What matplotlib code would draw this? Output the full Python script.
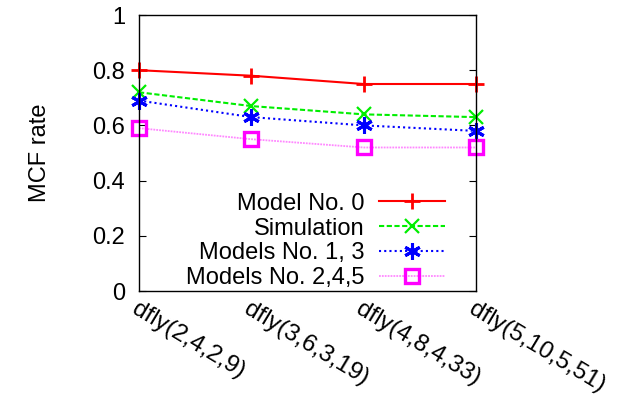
import matplotlib.pyplot as plt

plt.rcParams['font.family'] = ['Liberation Sans', 'DejaVu Sans']

configs = ['dfly(2,4,2,9)', 'dfly(3,6,3,19)', 'dfly(4,8,4,33)', 'dfly(5,10,5,51)']
model0 = [0.80, 0.78, 0.75, 0.75]
simulation = [0.72, 0.67, 0.64, 0.63]
models13 = [0.69, 0.63, 0.60, 0.58]
models245 = [0.59, 0.55, 0.52, 0.52]

x = list(range(len(configs)))

fig = plt.figure(figsize=(6.28, 4.03), dpi=100)
ax = fig.add_axes([139 / 628, 1 - 291 / 403, 337 / 628, 276 / 403])

ax.plot(x, model0, color='#ff0000', ls='-', lw=1.5, marker='+', ms=12, mew=2,
        label='Model No. 0', clip_on=False)
ax.plot(x, simulation, color='#00ee00', ls=(0, (2.5, 1.2)), lw=1.5, marker='x', ms=9.5, mew=1.6,
        label='Simulation', clip_on=False)
ax.plot(x, models13, color='#0000ff', ls=(0, (1, 1.5)), lw=1.5, marker=(6, 2, 0), ms=12, mew=2.2,
        label='Models No. 1, 3', clip_on=False)
ax.plot(x, models245, color='#ff88ff', ls=(0, (1, 0.6)), lw=1.3, marker='s', ms=10.5, mew=2.4,
        mec='#ff00ff', mfc='none', label='Models No. 2,4,5', clip_on=False)

ax.set_xlim(0, 3)
ax.set_ylim(0, 1)
ax.set_yticks([0, 0.2, 0.4, 0.6, 0.8, 1])
ax.set_yticklabels(['0', '0.2', '0.4', '0.6', '0.8', '1'], fontsize=17)
ax.set_xticks(x)
ax.set_xticklabels(configs, rotation=-31, ha='left', va='top', rotation_mode='anchor', fontsize=17.5)
ax.tick_params(axis='x', length=0, pad=5)
ax.tick_params(axis='y', direction='in', length=5, right=True, pad=10)
ax.set_ylabel('MCF rate', fontsize=17, labelpad=30)
for s in ax.spines.values():
    s.set_linewidth(1)

ax.legend(loc='lower right', frameon=False, markerfirst=False, fontsize=17,
          handlelength=2.8, handletextpad=0.6, labelspacing=0.12,
          borderaxespad=0.2, bbox_to_anchor=(0.95, -0.045))

fig.savefig('out.png', dpi=100)
